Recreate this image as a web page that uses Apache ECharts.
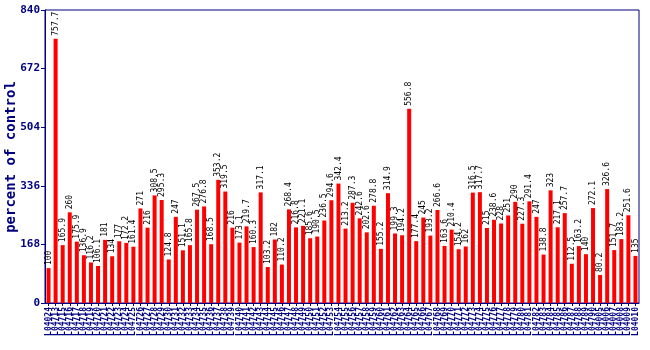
<!DOCTYPE html>
<html>
<head>
<meta charset="utf-8">
<style>
  html, body { margin: 0; padding: 0; background: #fff; }
  #chart { width: 650px; height: 350px; }
</style>
<script src="https://cdn.jsdelivr.net/npm/echarts@6/dist/echarts.min.js"></script>
</head>
<body>
<div id="chart"></div>
<script>
// Sample identifiers along the x axis
const categories = [
  'L04024','L04713','L04715','L04716','L04717','L04718','L04719','L04720','L04721','L04722',
  'L04723','L04724','L04725','L04726','L04727','L04728','L04729','L04730','L04731','L04732',
  'L04733','L04734','L04735','L04736','L04737','L04738','L04739','L04740','L04741','L04742',
  'L04743','L04744','L04745','L04746','L04747','L04748','L04749','L04750','L04751','L04752',
  'L04753','L04754','L04755','L04756','L04757','L04758','L04759','L04760','L04761','L04762',
  'L04763','L04764','L04765','L04766','L04767','L04768','L04769','L04770','L04771','L04772',
  'L04773','L04774','L04775','L04776','L04777','L04778','L04779','L04780','L04781','L04782',
  'L04783','L04784','L04785','L04786','L04787','L04788','L04789','L04790','L04005','L04006',
  'L04007','L04008','L04009','L04010'
];

// Response as percent of control
const values = [
  100, 757.7, 165.9, 260, 175.9, 136.9, 116.2, 106.1, 181, 134,
  177, 172.2, 161.4, 271, 216, 308.5, 295.3, 124.8, 247, 151.1,
  165.8, 267.5, 276.8, 168.5, 353.2, 319.5, 216, 173.1, 219.7, 160.3,
  317.1, 103.2, 182, 110.2, 268.4, 216.8, 221.1, 185.6, 190.5, 236.5,
  294.6, 342.4, 213.2, 287.3, 242.6, 202.6, 278.8, 155.2, 314.9, 199.3,
  194.2, 556.8, 177.4, 245, 193.2, 266.6, 163.6, 210.4, 154.2, 162,
  316.5, 317.7, 215, 238.6, 228, 251, 290, 227.3, 291.4, 247,
  138.8, 323, 217.1, 257.7, 112.5, 163.2, 140, 272.1, 80.2, 326.6,
  151.7, 183.2, 251.6, 135
];

// Y axis ticks
const yTicks = [0, 168, 336, 504, 672, 840];
const yTitle = 'percent of control';

const navy = '#000080';
const mono = '"DejaVu Sans Mono", "Liberation Mono", monospace';

const chart = echarts.init(document.getElementById('chart'), null, { renderer: 'canvas' });

chart.setOption({
  animation: false,
  backgroundColor: '#ffffff',
  grid: { left: 45, right: 11, top: 10, bottom: 47, containLabel: false,
          outerBoundsMode: 'none',
          show: true, borderColor: navy, borderWidth: 1 },
  // vertical axis title, drawn beside the value axis
  graphic: [{
    type: 'text',
    x: 11,
    y: 157,
    rotation: Math.PI / 2,
    style: {
      text: yTitle,
      fill: navy,
      font: 'bold 14px ' + mono,
      textAlign: 'center',
      textVerticalAlign: 'middle'
    }
  }],
  xAxis: {
    type: 'category',
    data: categories,
    axisLine: { lineStyle: { color: navy, width: 1 } },
    axisTick: { show: true, alignWithLabel: true, length: 3, lineStyle: { color: navy } },
    axisLabel: {
      interval: 0, rotate: 90, color: navy, fontFamily: mono,
      fontSize: 8, fontWeight: 'bold', margin: 4
    },
    splitLine: { show: false }
  },
  yAxis: {
    type: 'value',
    min: yTicks[0],
    max: yTicks[yTicks.length - 1],
    interval: yTicks[1] - yTicks[0],
    axisLine: { show: true, lineStyle: { color: navy, width: 1 } },
    axisTick: { show: true, length: 4, lineStyle: { color: navy } },
    axisLabel: { color: navy, fontFamily: mono, fontSize: 11, fontWeight: 'bold', margin: 5 },
    splitLine: { show: false }
  },
  series: [{
    type: 'bar',
    data: values,
    barWidth: 4,
    itemStyle: { color: '#ff0000' },
    label: {
      show: true,
      position: 'top',
      rotate: 90,
      align: 'left',
      verticalAlign: 'middle',
      distance: 3,
      color: '#000000',
      fontFamily: mono,
      fontSize: 8,
      formatter: p => String(p.value)
    }
  }]
});
</script>
</body>
</html>
